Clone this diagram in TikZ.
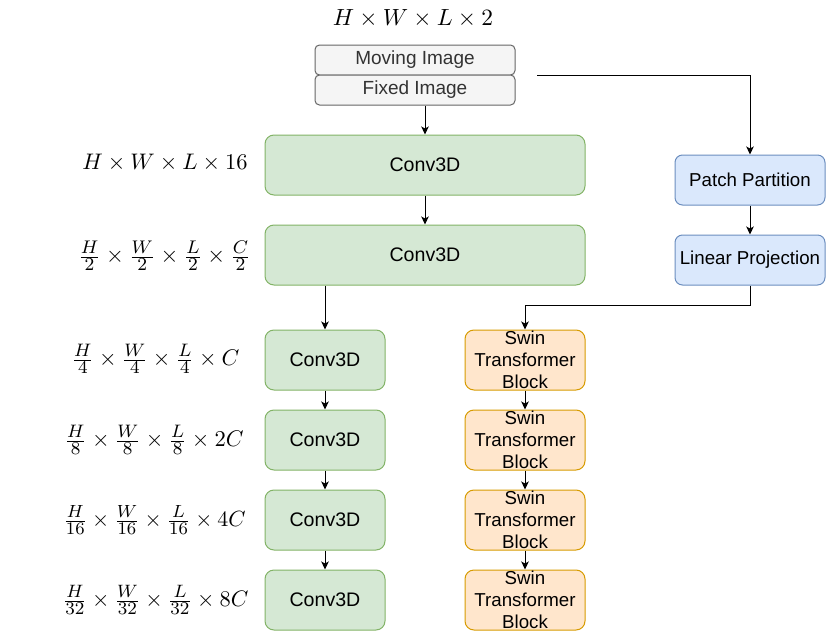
\documentclass[tikz,border=0pt]{standalone}
\usepackage{fontspec}
\setsansfont{Liberation Sans}
\DeclareMathSizes{10}{10}{8}{6}
\usetikzlibrary{arrows.meta}
\definecolor{greenfill}{HTML}{D5E8D4}
\definecolor{greendraw}{HTML}{82B366}
\definecolor{bluefill}{HTML}{DAE8FC}
\definecolor{bluedraw}{HTML}{6C8EBF}
\definecolor{orangefill}{HTML}{FFE6CC}
\definecolor{orangedraw}{HTML}{D79B00}
\definecolor{greyfill}{HTML}{F5F5F5}
\definecolor{greydraw}{HTML}{666666}
\definecolor{greytext}{HTML}{333333}
\begin{document}
\begin{tikzpicture}[x=1pt,y=-1pt,
  box/.style={draw, line width=1pt, align=center, inner sep=0pt,
    font=\sffamily\fontsize{18.7}{22}\selectfont, text=black},
  greybox/.style={box, fill=greyfill, draw=greydraw, text=greytext,
    minimum width=200pt, minimum height=30pt, rounded corners=4.5pt,
    font=\sffamily\fontsize{19}{22}\selectfont},
  bigconv/.style={box, fill=greenfill, draw=greendraw,
    minimum width=320pt, minimum height=60pt, rounded corners=9pt,
    font=\sffamily\fontsize{19.6}{22}\selectfont},
  smallconv/.style={box, fill=greenfill, draw=greendraw,
    minimum width=120pt, minimum height=60pt, rounded corners=9pt,
    font=\sffamily\fontsize{19.6}{22}\selectfont},
  swin/.style={box, fill=orangefill, draw=orangedraw,
    minimum width=120pt, minimum height=60pt, rounded corners=9pt},
  bluebox/.style={box, fill=bluefill, draw=bluedraw,
    minimum width=150pt, minimum height=50pt, rounded corners=7.5pt},
  dimlabel/.style={inner sep=0pt, scale=#1, font=\fontsize{10}{12}\selectfont},
  arr/.style={line width=1pt, -{Stealth[length=8pt,width=7.5pt,inset=2pt]}}
]
\useasboundingbox (0,0) rectangle (831,640);

\node[dimlabel=2.34] (ltop) at (413,18) {$H\times W\times L\times 2$};
\node[dimlabel=2.25] (l1) at (165,163) {$H\times W\times L\times 16$};
\node[dimlabel=2.29] (l2) at (164.5,256) {$\frac{H}{2}\times\frac{W}{2}\times\frac{L}{2}\times\frac{C}{2}$};
\node[dimlabel=2.26] (l3) at (155.5,359) {$\frac{H}{4}\times\frac{W}{4}\times\frac{L}{4}\times C$};
\node[dimlabel=2.26] (l4) at (154,440) {$\frac{H}{8}\times\frac{W}{8}\times\frac{L}{8}\times 2C$};
\node[dimlabel=2.2] (l5) at (154.5,520) {$\frac{H}{16}\times\frac{W}{16}\times\frac{L}{16}\times 4C$};
\node[dimlabel=2.24] (l6) at (155.5,600) {$\frac{H}{32}\times\frac{W}{32}\times\frac{L}{32}\times 8C$};

\node[greybox] (mov) at (415,60) {Moving Image};
\node[greybox] (fix) at (415,90) {Fixed Image};

\node[bigconv] (c1) at (425,165) {Conv3D};
\node[bigconv] (c2) at (425,255) {Conv3D};

\node[smallconv] (c3) at (325,360) {Conv3D};
\node[smallconv] (c4) at (325,440) {Conv3D};
\node[smallconv] (c5) at (325,520) {Conv3D};
\node[smallconv] (c6) at (325,600) {Conv3D};

\node[swin] (s1) at (525,360) {Swin\\Transformer\\Block};
\node[swin] (s2) at (525,440) {Swin\\Transformer\\Block};
\node[swin] (s3) at (525,520) {Swin\\Transformer\\Block};
\node[swin] (s4) at (525,600) {Swin\\Transformer\\Block};

\node[bluebox] (pp) at (750,180) {Patch Partition};
\node[bluebox] (lp) at (750,260) {Linear Projection};

\coordinate (start) at (537,75);

\draw[arr] (fix.south -| c1.north) -- (c1.north);
\draw[arr] (c1.south) -- (c2.north);
\draw[arr] (c2.south -| c3.north) -- (c3.north);
\draw[arr] (c3.south) -- (c4.north);
\draw[arr] (c4.south) -- (c5.north);
\draw[arr] (c5.south) -- (c6.north);
\draw[arr] (start) -| (pp.north);
\draw[arr] (pp.south) -- (lp.north);
\draw[arr] (lp.south) -- ++(0,20) -| (s1.north);
\draw[arr] (s1.south) -- (s2.north);
\draw[arr] (s2.south) -- (s3.north);
\draw[arr] (s3.south) -- (s4.north);
\end{tikzpicture}
\end{document}
